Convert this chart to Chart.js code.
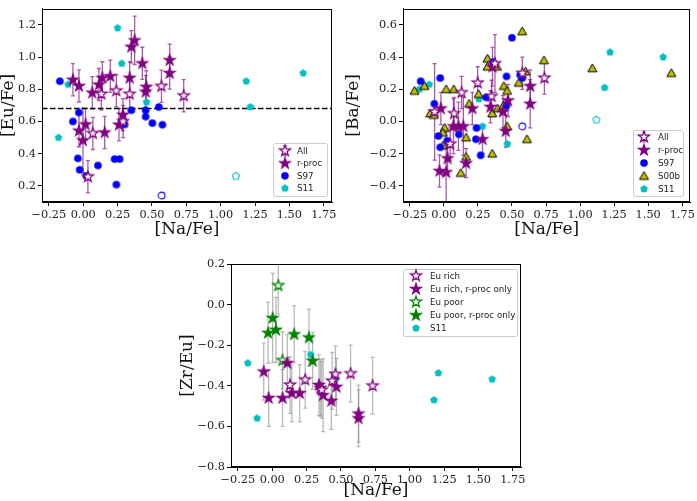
<!DOCTYPE html>
<html>
<head>
<meta charset="utf-8">
<script src="https://cdn.jsdelivr.net/npm/chart.js@4/dist/chart.umd.min.js"></script>
<style>
html, body { margin: 0; padding: 0; background: #fff; width: 697px; height: 501px; overflow: hidden; }
canvas { position: absolute; }
</style>
</head>
<body>
<canvas id="euChart" width="345" height="240" style="left:0;top:0"></canvas>
<canvas id="baChart" width="352" height="240" style="left:345px;top:0"></canvas>
<canvas id="zrChart" width="390" height="261" style="left:150px;top:240px"></canvas>
<script>
// ---- tick values ----
const naTicks = [-0.25, 0, 0.25, 0.5, 0.75, 1.0, 1.25, 1.5, 1.75];
const euTicks = [0.2, 0.4, 0.6, 0.8, 1.0, 1.2];
const baTicks = [-0.4, -0.2, 0, 0.2, 0.4, 0.6];
const zrTicks = [-0.8, -0.6, -0.4, -0.2, 0, 0.2];
const euLimit = 0.68;

// ---- panel 1: [Eu/Fe] ----
const euAllX = [0.132, 0.241, 0.338, 0.569, 0.731, 0.07, 0.034, 0.29];
const euAllY = [0.771, 0.791, 0.77, 0.819, 0.76, 0.526, 0.257, 0.60];
const euAllErr = [0.1, 0.1, 0.1, 0.1, 0.1, 0.1, 0.1, 0.1];
const euRprocX = [-0.075, -0.031, 0.066, 0.114, 0.139, 0.197, 0.338, 0.35, 0.374, 0.43, 0.459, 0.454, 0.629, 0.629, 0.017, -0.031, -0.002, 0.156, 0.26, 0.289];
const euRprocY = [0.859, 0.821, 0.779, 0.829, 0.871, 0.881, 0.871, 1.064, 1.104, 0.961, 0.815, 0.785, 0.981, 0.901, 0.582, 0.543, 0.483, 0.532, 0.58, 0.642];
const euRprocErr = [0.1, 0.1, 0.1, 0.1, 0.1, 0.1, 0.1, 0.1, 0.15, 0.1, 0.1, 0.1, 0.1, 0.1, 0.1, 0.1, 0.2, 0.1, 0.1, 0.1];
const euS97X = [-0.17, -0.032, -0.075, 0.35, 0.454, 0.454, 0.55, 0.503, 0.576, 0.301, -0.039, -0.026, 0.022, 0.107, 0.228, 0.265, 0.241];
const euS97Y = [0.85, 0.656, 0.60, 0.67, 0.67, 0.63, 0.69, 0.59, 0.58, 0.582, 0.371, 0.30, 0.262, 0.327, 0.367, 0.367, 0.208];
const euS97OpenX = [0.57];
const euS97OpenY = [0.14];
const euS11X = [-0.18, -0.11, 0.25, 0.28, 0.46, 1.186, 1.216, 1.60];
const euS11Y = [0.50, 0.83, 1.18, 0.96, 0.72, 0.85, 0.69, 0.90];
const euS11OpenX = [1.11];
const euS11OpenY = [0.26];

// ---- panel 2: [Ba/Fe] ----
const baAllX = [-0.068, 0.075, 0.13, 0.046, 0.248, 0.35, 0.375, 0.576, 0.738];
const baAllY = [0.06, 0.05, 0.18, -0.14, 0.24, 0.156, 0.36, 0.30, 0.27];
const baAllErr = [0.3, 0.1, 0.1, 0.1, 0.1, 0.1, 0.18, 0.1, 0.1];
const baRprocX = [-0.022, 0.07, 0.107, 0.143, -0.032, 0.017, 0.027, 0.163, 0.209, 0.284, 0.342, 0.357, 0.434, 0.454, 0.471, 0.634, 0.634];
const baRprocY = [0.081, -0.03, -0.03, -0.03, -0.307, -0.315, -0.229, -0.259, 0.081, -0.11, 0.091, 0.34, 0.061, -0.06, 0.131, 0.22, 0.11];
const baRprocErr = [0.1, 0.17, 0.15, 0.18, 0.1, 0.25, 0.1, 0.09, 0.1, 0.09, 0.1, 0.12, 0.1, 0.1, 0.1, 0.1, 0.15];
const baS97X = [-0.17, -0.027, -0.07, -0.04, -0.027, 0.024, 0.11, 0.24, 0.235, 0.27, 0.31, 0.36, 0.46, 0.46, 0.50, 0.56, 0.575];
const baS97Y = [0.25, 0.27, 0.11, -0.09, -0.16, -0.12, -0.08, -0.04, -0.11, -0.21, 0.15, 0.37, 0.28, 0.10, 0.52, 0.29, 0.27];
const baS97OpenX = [0.575];
const baS97OpenY = [-0.03];
const baS00bX = [-0.216, -0.143, -0.10, -0.075, 0.017, 0.073, 0.005, -0.007, -0.007, 0.185, 0.163, 0.163, 0.124, 0.255, 0.32, 0.32, 0.39, 0.355, 0.395, 0.355, 0.437, 0.44, 0.464, 0.464, 0.55, 0.60, 0.575, 0.61, 0.735, 1.09, 1.67];
const baS00bY = [0.19, 0.22, 0.05, 0.04, 0.20, 0.20, -0.04, -0.07, -0.15, 0.11, -0.10, -0.22, -0.32, 0.17, 0.39, 0.34, 0.34, 0.05, 0.08, -0.20, 0.10, 0.22, 0.19, -0.03, 0.24, 0.31, 0.56, -0.11, 0.38, 0.33, 0.30];
const baS11X = [-0.18, -0.107, 0.257, 0.284, 0.466, 1.18, 1.22, 1.61];
const baS11Y = [0.20, 0.23, 0.14, -0.03, -0.14, 0.21, 0.43, 0.40];
const baS11OpenX = [1.12];
const baS11OpenY = [0.01];

// ---- panel 3: [Zr/Eu] ----
const zrRichX = [0.13, 0.24, 0.36, 0.46, 0.436, 0.57, 0.73];
const zrRichY = [-0.396, -0.37, -0.42, -0.343, -0.376, -0.34, -0.40];
const zrRichErr = [0.14, 0.14, 0.14, 0.14, 0.14, 0.14, 0.14];
const zrRichRX = [-0.062, -0.026, 0.075, 0.11, 0.142, 0.20, 0.34, 0.35, 0.37, 0.43, 0.467, 0.628, 0.628];
const zrRichRY = [-0.33, -0.46, -0.46, -0.288, -0.436, -0.436, -0.396, -0.41, -0.446, -0.474, -0.405, -0.537, -0.56];
const zrRichRErr = [0.14, 0.14, 0.14, 0.14, 0.14, 0.14, 0.15, 0.14, 0.18, 0.14, 0.14, 0.14, 0.14];
const zrPoorX = [0.044, 0.075];
const zrPoorY = [0.094, -0.275];
const zrPoorErr = [0.14, 0.14];
const zrPoorRX = [-0.03, 0.003, 0.027, 0.16, 0.267, 0.294];
const zrPoorRY = [-0.139, -0.066, -0.124, -0.146, -0.162, -0.277];
const zrPoorRErr = [0.15, 0.22, 0.16, 0.14, 0.14, 0.14];
const zrS11X = [-0.178, -0.11, 0.28, 0.46, 1.177, 1.208, 1.60];
const zrS11Y = [-0.288, -0.56, -0.247, -0.368, -0.47, -0.337, -0.368];

// ---- colours ----
const PURPLE = '#800080', BLUE = '#0000ff', CYAN = '#00bfbf', OLIVE = '#bfbf00', GREEN = '#008000';
const ERR_PURPLE = 'rgba(128,0,128,0.65)';
const ERR_GREY = 'rgba(128,128,128,0.55)';

// marker images
function marker(shape, R, fill, stroke, lw) {
    const pad = Math.ceil(lw || 0) + 1;
    const S = Math.ceil(2 * R + 2 * pad);
    const c = document.createElement('canvas');
    c.width = S; c.height = S;
    const g = c.getContext('2d');
    const cx = S / 2, cy = S / 2;
    g.beginPath();
    if (shape === 'circle') {
        g.arc(cx, cy, R, 0, Math.PI * 2);
    } else {
        const n = shape === 'star' ? 10 : shape === 'pentagon' ? 5 : 3;
        for (let i = 0; i < n; i++) {
            const a = -Math.PI / 2 + i * 2 * Math.PI / n;
            const r = (shape === 'star' && i % 2) ? R * 0.382 : R;
            const px = cx + r * Math.cos(a), py = cy + r * Math.sin(a) + (shape === 'triangle' ? R * 0.15 : 0);
            if (i === 0) g.moveTo(px, py); else g.lineTo(px, py);
        }
    }
    g.closePath();
    g.lineJoin = 'miter';
    if (fill) { g.fillStyle = fill; g.fill(); }
    if (stroke) { g.strokeStyle = stroke; g.lineWidth = lw; g.stroke(); }
    return c;
}

const mStarP = marker('star', 5.8, PURPLE, PURPLE, 1.1);
const mStarPOpen = marker('star', 5.8, '#ffffff', PURPLE, 1.2);
const mStarG = marker('star', 5.8, GREEN, GREEN, 1.1);
const mStarGOpen = marker('star', 5.8, '#ffffff', GREEN, 1.2);
const mCircle = marker('circle', 3.8, BLUE, null, 0);
const mCircleOpen = marker('circle', 3.4, null, BLUE, 1.1);
const mPent = marker('pentagon', 4.0, CYAN, null, 0);
const mPentOpen = marker('pentagon', 3.7, null, CYAN, 1.1);
const mTri = marker('triangle', 5.2, OLIVE, '#000', 1);

function pts(xs, ys, errs) {
    return xs.map((x, i) => ({ x: x, y: ys[i], err: errs ? errs[i] : 0 }));
}

function ds(label, xs, ys, errs, img, errColor, inLegend) {
    return {
        label: label,
        data: pts(xs, ys, errs),
        pointStyle: img,
        pointRadius: 5,
        errColor: errColor,
        inLegend: inLegend
    };
}

// error bars drawn under the markers
const errorBarPlugin = {
    id: 'errorBars',
    beforeDatasetsDraw(chart) {
        const { ctx, chartArea, scales } = chart;
        ctx.save();
        ctx.beginPath();
        ctx.rect(chartArea.left, chartArea.top, chartArea.right - chartArea.left, chartArea.bottom - chartArea.top);
        ctx.clip();
        chart.data.datasets.forEach(d => {
            if (!d.errColor) return;
            ctx.strokeStyle = d.errColor;
            ctx.lineWidth = 1.3;
            d.data.forEach(p => {
                if (!p.err) return;
                const px = scales.x.getPixelForValue(p.x);
                const y0 = scales.y.getPixelForValue(p.y - p.err);
                const y1 = scales.y.getPixelForValue(p.y + p.err);
                ctx.beginPath();
                ctx.moveTo(px, y0); ctx.lineTo(px, y1);
                ctx.moveTo(px - 2, y0); ctx.lineTo(px + 2, y0);
                ctx.moveTo(px - 2, y1); ctx.lineTo(px + 2, y1);
                ctx.stroke();
            });
        });
        ctx.restore();
    }
};

// frame + legend box
const framePlugin = {
    id: 'frameLegend',
    afterDraw(chart, args, opts) {
        const { ctx, chartArea } = chart;
        ctx.save();
        ctx.strokeStyle = '#000';
        ctx.lineWidth = 1;
        ctx.strokeRect(Math.round(chartArea.left) + 0.5, Math.round(chartArea.top) + 0.5,
            Math.round(chartArea.right - chartArea.left) - 1, Math.round(chartArea.bottom - chartArea.top) - 1);

        const b = opts.box;
        if (b) {
            ctx.fillStyle = 'rgba(255,255,255,0.9)';
            ctx.strokeStyle = '#cccccc';
            ctx.beginPath();
            ctx.roundRect(b.x + 0.5, b.y + 0.5, b.w, b.h, 2);
            ctx.fill();
            ctx.stroke();
            ctx.font = '8.7px "DejaVu Sans"';
            ctx.fillStyle = '#222';
            ctx.textBaseline = 'middle';
            let row = 0;
            chart.data.datasets.forEach(d => {
                if (!d.inLegend) return;
                const cy = b.rowY + row * b.step;
                if (d.legendErr) {
                    ctx.strokeStyle = d.errColor;
                    ctx.lineWidth = 1.2;
                    ctx.beginPath();
                    ctx.moveTo(b.mx, cy - 5); ctx.lineTo(b.mx, cy + 5);
                    ctx.moveTo(b.mx - 2, cy - 5); ctx.lineTo(b.mx + 2, cy - 5);
                    ctx.moveTo(b.mx - 2, cy + 5); ctx.lineTo(b.mx + 2, cy + 5);
                    ctx.stroke();
                }
                const img = d.pointStyle;
                ctx.drawImage(img, b.mx - img.width / 2, cy - img.height / 2);
                ctx.fillText(d.label, b.tx, cy + 0.5);
                row++;
            });
        }
        ctx.restore();
    }
};

function fmt(v, dec) {
    return v.toFixed(dec).replace('-', '\u2212');
}

function axis(ticks, min, max, dec, title, fitSize, horizontal) {
    return {
        type: 'linear',
        min: min,
        max: max,
        afterBuildTicks: s => { s.ticks = ticks.map(v => ({ value: v })); },
        afterFit: s => { if (horizontal) s.height = fitSize; else s.width = fitSize; },
        ticks: {
            callback: v => fmt(v, dec),
            color: '#222',
            font: { family: 'DejaVu Serif', size: 11.3 },
            padding: 2,
            maxRotation: 0,
            autoSkip: false
        },
        grid: { display: true, drawOnChartArea: false, drawTicks: true, tickLength: 4, color: '#000' },
        border: { display: true, color: '#000' },
        title: {
            display: true,
            text: title,
            color: '#111',
            font: { family: 'DejaVu Serif', size: 17, lineHeight: 1 },
            padding: { top: 0, bottom: 2 }
        }
    };
}

function makeChart(id, datasets, yTicks, yMin, yMax, yDec, yTitle, yWidth, xHeight, padding, box) {
    return new Chart(document.getElementById(id), {
        type: 'scatter',
        data: { datasets: datasets },
        options: {
            responsive: false,
            animation: false,
            devicePixelRatio: 1,
            events: [],
            layout: { padding: padding },
            scales: {
                x: axis(naTicks, -0.3, 1.81, 2, '[Na/Fe]', xHeight, true),
                y: axis(yTicks, yMin, yMax, yDec, yTitle, yWidth, false)
            },
            plugins: {
                legend: { display: false },
                tooltip: { enabled: false },
                frameLegend: { box: box }
            }
        },
        plugins: [errorBarPlugin, framePlugin]
    });
}

// panel 1
const euLine = {
    label: 'limit',
    data: [{ x: -0.3, y: euLimit }, { x: 1.81, y: euLimit }],
    showLine: true,
    borderColor: '#000',
    borderWidth: 1.5,
    borderDash: [5.5, 2.5],
    pointRadius: 0
};
const euAll = ds('All', euAllX, euAllY, euAllErr, mStarPOpen, ERR_PURPLE, true);
euAll.legendErr = true;
makeChart('euChart', [
    euAll,
    ds('r-proc', euRprocX, euRprocY, euRprocErr, mStarP, ERR_PURPLE, true),
    ds('S97', euS97X, euS97Y, null, mCircle, null, true),
    ds('S11', euS11X, euS11Y, null, mPent, null, true),
    ds('S97 open', euS97OpenX, euS97OpenY, null, mCircleOpen, null, false),
    ds('S11 open', euS11OpenX, euS11OpenY, null, mPentOpen, null, false),
    euLine
], euTicks, 0.1, 1.3, 1, '[Eu/Fe]', 42, 38, { left: 0, right: 13, top: 1, bottom: 0 },
    { x: 273, y: 143, w: 54, h: 53, mx: 285, tx: 297, rowY: 150.8, step: 12.5 });

// panel 2
const baAll = ds('All', baAllX, baAllY, baAllErr, mStarPOpen, ERR_PURPLE, true);
baAll.legendErr = true;
makeChart('baChart', [
    baAll,
    ds('r-proc', baRprocX, baRprocY, baRprocErr, mStarP, ERR_PURPLE, true),
    ds('S97', baS97X, baS97Y, null, mCircle, null, true),
    ds('S00b', baS00bX, baS00bY, null, mTri, null, true),
    ds('S11', baS11X, baS11Y, null, mPent, null, true),
    ds('S97 open', baS97OpenX, baS97OpenY, null, mCircleOpen, null, false),
    ds('S11 open', baS11OpenX, baS11OpenY, null, mPentOpen, null, false)
], baTicks, -0.5, 0.7, 1, '[Ba/Fe]', 58, 38, { left: 0, right: 5, top: 1, bottom: 0 },
    { x: 288, y: 130, w: 50, h: 66, mx: 299, tx: 313, rowY: 137, step: 13 });

// panel 3
makeChart('zrChart', [
    ds('Eu rich', zrRichX, zrRichY, zrRichErr, mStarPOpen, ERR_GREY, true),
    ds('Eu rich, r-proc only', zrRichRX, zrRichRY, zrRichRErr, mStarP, ERR_GREY, true),
    ds('Eu poor', zrPoorX, zrPoorY, zrPoorErr, mStarGOpen, ERR_GREY, true),
    ds('Eu poor, r-proc only', zrPoorRX, zrPoorRY, zrPoorRErr, mStarG, ERR_GREY, true),
    ds('S11', zrS11X, zrS11Y, null, mPent, null, true)
], zrTicks, -0.8, 0.2, 1, '[Zr/Eu]', 52, 34, { left: 29, right: 19, top: 24, bottom: 0 },
    { x: 253, y: 29, w: 114, h: 67, mx: 266, tx: 280, rowY: 35.8, step: 13.1 });
</script>
</body>
</html>
